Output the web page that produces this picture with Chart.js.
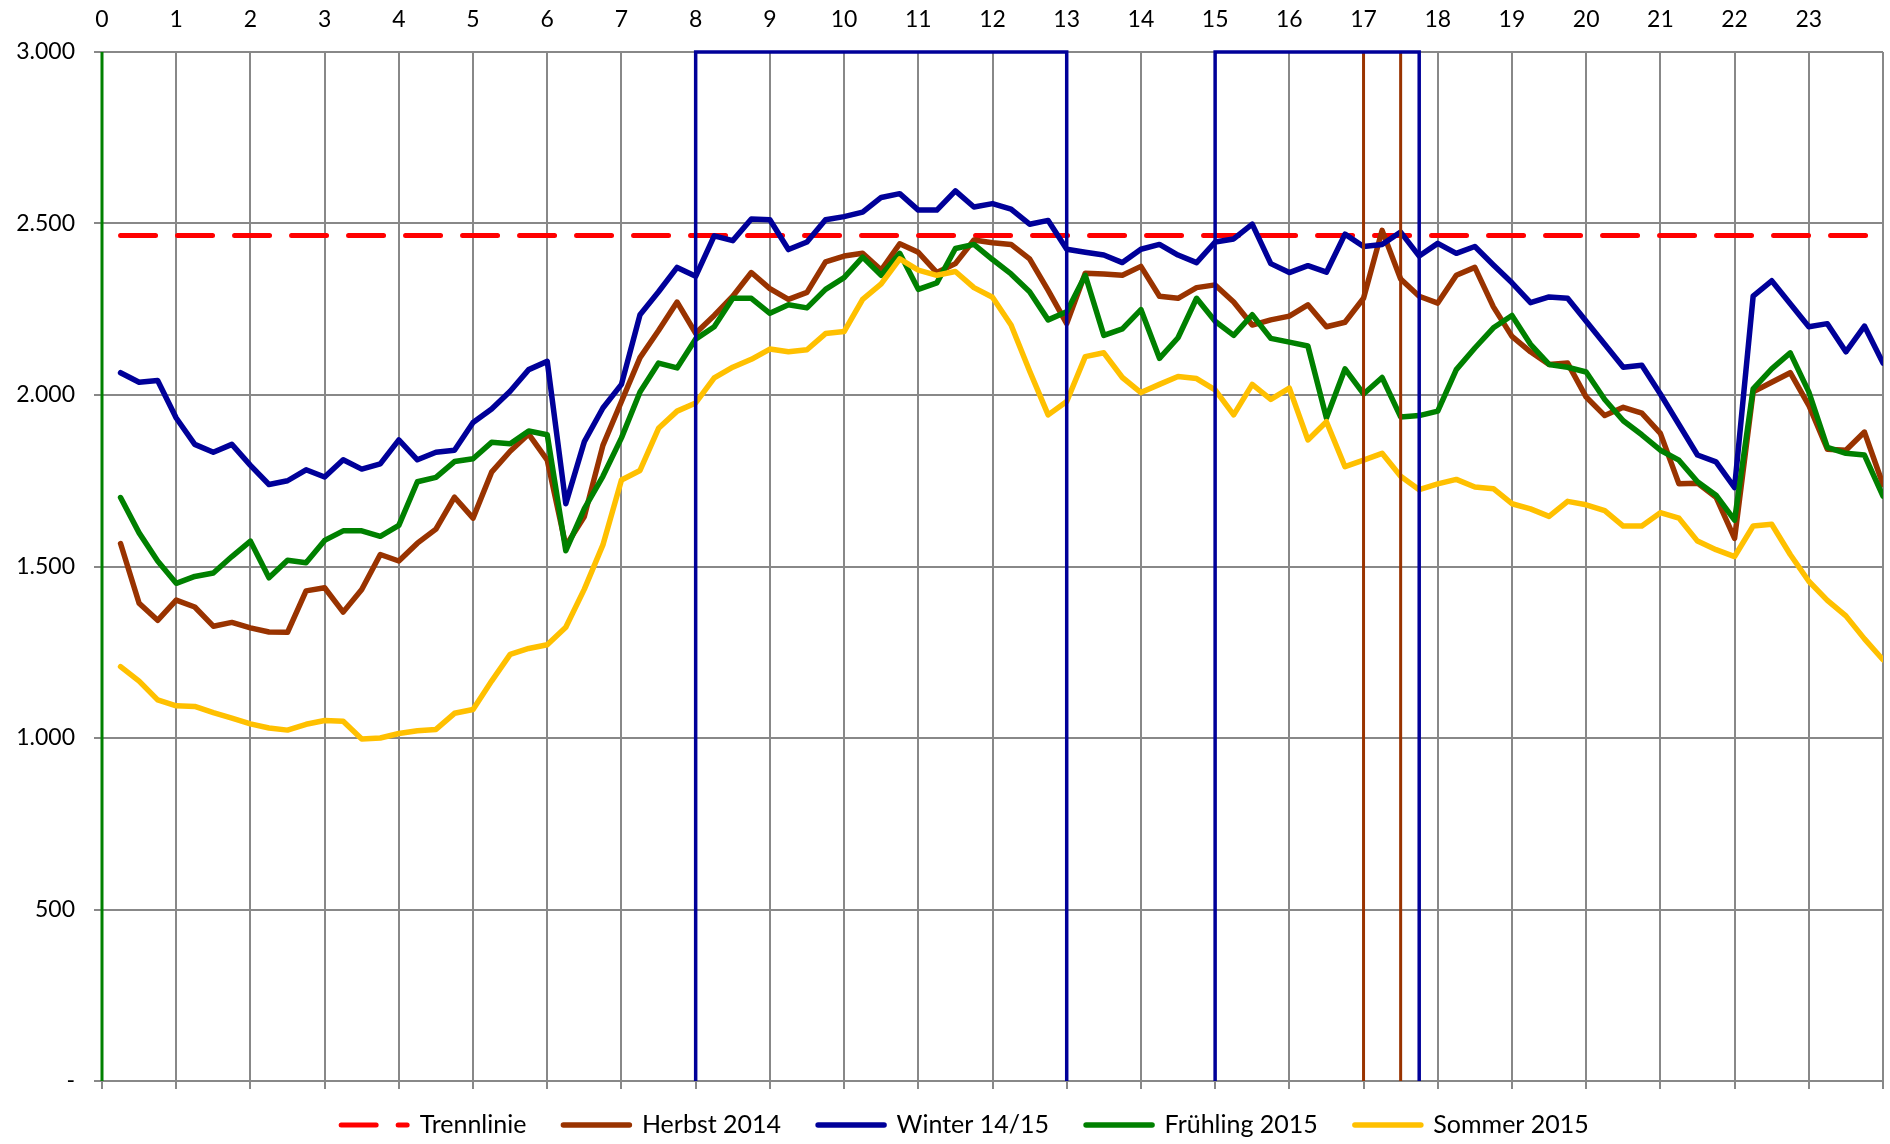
<!DOCTYPE html>
<html><head><meta charset="utf-8">
<script src="https://cdn.jsdelivr.net/npm/chart.js@4.4.1/dist/chart.umd.min.js"></script>
<style>html,body{margin:0;padding:0;background:#fff;overflow:hidden}canvas{display:block}</style>
</head><body>
<canvas id="c" width="1890" height="1144"></canvas>
<script>
// Time of day (hours), quarter-hour steps
const times = [0.25,0.5,0.75,1,1.25,1.5,1.75,2,2.25,2.5,2.75,3,3.25,3.5,3.75,4,
  4.25,4.5,4.75,5,5.25,5.5,5.75,6,6.25,6.5,6.75,7,7.25,7.5,7.75,8,
  8.25,8.5,8.75,9,9.25,9.5,9.75,10,10.25,10.5,10.75,11,11.25,11.5,11.75,12,
  12.25,12.5,12.75,13,13.25,13.5,13.75,14,14.25,14.5,14.75,15,15.25,15.5,15.75,16,
  16.25,16.5,16.75,17,17.25,17.5,17.75,18,18.25,18.5,18.75,19,19.25,19.5,19.75,20,
  20.25,20.5,20.75,21,21.25,21.5,21.75,22,22.25,22.5,22.75,23,23.25,23.5,23.75,24];

const herbst2014 = [1567,1393,1343,1402,1382,1326,1337,1321,1309,1308,1429,1438,1367,1433,1535,1516,
  1568,1609,1702,1641,1775,1836,1886,1810,1560,1646,1853,1981,2109,2188,2271,2180,
  2232,2288,2357,2310,2279,2299,2388,2405,2413,2364,2441,2416,2357,2383,2452,2444,
  2439,2397,2305,2208,2355,2353,2349,2375,2288,2282,2313,2321,2271,2204,2219,2230,
  2263,2199,2212,2282,2480,2338,2288,2268,2349,2372,2257,2171,2126,2089,2093,1994,
  1940,1964,1947,1888,1741,1743,1702,1582,2009,2037,2065,1970,1842,1839,1892,1739];

const winter1415 = [2065,2037,2042,1933,1856,1833,1856,1795,1739,1750,1782,1761,1811,1784,1799,1869,
  1811,1833,1839,1920,1959,2011,2074,2098,1683,1864,1962,2031,2234,2301,2372,2346,
  2464,2450,2513,2511,2424,2446,2511,2520,2533,2576,2587,2539,2539,2595,2548,2558,
  2542,2498,2509,2425,2416,2408,2386,2425,2439,2408,2386,2446,2455,2498,2383,2357,
  2377,2358,2469,2433,2439,2475,2405,2442,2413,2433,2379,2327,2269,2286,2282,2215,
  2148,2081,2087,2003,1914,1825,1805,1730,2288,2333,2266,2199,2208,2126,2201,2093];

const fruehling2015 = [1701,1598,1516,1451,1471,1481,1529,1574,1467,1518,1511,1576,1604,1604,1588,1620,
  1747,1760,1806,1814,1862,1858,1895,1884,1546,1669,1763,1875,2009,2093,2079,2163,
  2199,2282,2282,2238,2263,2254,2308,2342,2402,2349,2413,2308,2327,2427,2439,2395,
  2353,2301,2219,2243,2349,2174,2193,2249,2107,2167,2282,2215,2174,2234,2165,2154,
  2143,1933,2076,2003,2051,1936,1940,1953,2074,2137,2196,2232,2148,2089,2081,2067,
  1987,1925,1884,1839,1810,1747,1708,1635,2018,2076,2123,2009,1847,1830,1825,1705];

const sommer2015 = [1208,1166,1111,1094,1092,1074,1058,1041,1029,1023,1040,1051,1049,997,1000,1013,
  1021,1025,1072,1083,1166,1244,1261,1272,1323,1434,1563,1752,1780,1903,1953,1977,
  2050,2081,2104,2134,2126,2132,2179,2185,2279,2324,2397,2364,2349,2360,2313,2285,
  2204,2070,1942,1981,2112,2123,2051,2007,2031,2054,2048,2015,1942,2031,1987,2020,
  1869,1922,1791,1810,1830,1763,1724,1741,1754,1732,1727,1683,1668,1646,1690,1680,
  1663,1618,1618,1657,1641,1574,1549,1529,1618,1623,1535,1457,1401,1356,1289,1228];

const trennlinieValue = 2465;
const trennlinieSpan = [0.25, 24];

// Marker lines (hours)
const fruehlingMarks = [0];
const winterWindows = [[8, 13], [15, 17.75]];
const herbstMarks = [17, 17.5];

const yTickValues = [0, 500, 1000, 1500, 2000, 2500, 3000];
const yTickLabels = ['-', '500', '1.000', '1.500', '2.000', '2.500', '3.000'];
const hourLabels = ['0','1','2','3','4','5','6','7','8','9','10','11','12','13','14','15','16','17','18','19','20','21','22','23'];

const seriesNames = ['Trennlinie', 'Herbst 2014', 'Winter 14/15', 'Frühling 2015', 'Sommer 2015'];

const C = { red:'#FF0000', brown:'#993300', blue:'#000099', green:'#008000', yellow:'#FFC000', grid:'#888888' };
const Y_MIN = 0, Y_MAX = 3000;

const pts = arr => arr.map((v, i) => ({ x: times[i], y: v }));

const lineDs = (label, data, color, order) => ({
  label, data, borderColor: color, backgroundColor: color, borderWidth: 5.5,
  pointRadius: 0, tension: 0, order, borderJoinStyle: 'round', borderCapStyle: 'round'
});

const markerDs = (data, color, width) => ({
  label: '_marker', data, borderColor: color, backgroundColor: color, borderWidth: width,
  pointRadius: 0, tension: 0, order: 0, clip: false, borderCapStyle: 'butt', spanGaps: false
});

const datasets = [
  Object.assign(lineDs(seriesNames[0], trennlinieSpan.map(x => ({ x, y: trennlinieValue })), C.red, 6),
    { borderDash: [35, 22], borderCapStyle: 'round', borderWidth: 5 }),
  lineDs(seriesNames[1], pts(herbst2014), C.brown, 5),
  lineDs(seriesNames[2], pts(winter1415), C.blue, 4),
  lineDs(seriesNames[3], pts(fruehling2015), C.green, 3),
  lineDs(seriesNames[4], pts(sommer2015), C.yellow, 2),
];
fruehlingMarks.forEach(h => datasets.push(markerDs([{x:h,y:Y_MIN},{x:h,y:Y_MAX}], C.green, 3)));
winterWindows.forEach(([a, b]) => datasets.push(markerDs([{x:a,y:Y_MIN},{x:a,y:Y_MAX},{x:b,y:Y_MAX},{x:b,y:Y_MIN}], C.blue, 3.5)));
herbstMarks.forEach(h => datasets.push(markerDs([{x:h,y:Y_MIN},{x:h,y:Y_MAX}], C.brown, 3)));

const FONT = 'Lato, "Open Sans", "DejaVu Sans", sans-serif';
Chart.defaults.font.family = FONT;
Chart.defaults.color = '#000';

const CHART_TOP = 52, CHART_BOTTOM = 1081, CHART_LEFT = 102;
const LEGEND_FONT = 25, LEGEND_PAD = 37, LEGEND_TEXT_Y = 1125, LEGEND_CENTER_X = 965;

const legendPlacer = {
  id: 'legendPlacer',
  afterLayout(chart) {
    const lg = chart.legend;
    if (!lg || !lg.lineWidths) return;
    const P = LEGEND_PAD;
    const x0 = (lg.left + P + lg.right - lg.lineWidths[0]) / 2;
    const contentCenter = x0 + (lg.lineWidths[0] - P) / 2;
    const d = LEGEND_CENTER_X - contentCenter;
    lg.left += d; lg.right += d;
    lg.top = LEGEND_TEXT_Y - P - LEGEND_FONT / 2;
    lg.bottom = chart.height;
    lg.height = lg.bottom - lg.top;
  }
};

const baseGenerateLabels = Chart.defaults.plugins.legend.labels.generateLabels;

new Chart(document.getElementById('c'), {
  type: 'line',
  data: { datasets },
  plugins: [legendPlacer],
  options: {
    responsive: false,
    animation: false,
    events: [],
    layout: { padding: { left: 0, right: 7, top: 0, bottom: 0 } },
    plugins: {
      tooltip: { enabled: false },
      legend: {
        position: 'bottom',
        maxHeight: 1144 - CHART_BOTTOM,
        labels: {
          generateLabels: chart => {
            const items = baseGenerateLabels(chart);
            items.forEach(it => {
              const ds = chart.data.datasets[it.datasetIndex];
              it.lineDash = ds.borderDash || [];
              it.lineCap = ds.borderCapStyle || 'butt';
              it.lineWidth = ds.borderWidth;
              it.strokeStyle = ds.borderColor;
            });
            return items;
          },
          filter: item => item.text !== '_marker',
          sort: (a, b) => a.datasetIndex - b.datasetIndex,
          usePointStyle: true,
          pointStyle: 'line',
          pointStyleWidth: 66,
          padding: LEGEND_PAD,
          color: '#000',
          font: { size: LEGEND_FONT, family: FONT }
        }
      }
    },
    scales: {
      x: {
        type: 'linear', position: 'bottom', min: 0, max: 24,
        ticks: { stepSize: 1, display: false },
        grid: { color: C.grid, lineWidth: 2, tickLength: 8, drawTicks: true },
        border: { color: C.grid, width: 2 },
        afterFit: s => { s.height = Math.max(0, 1144 - CHART_BOTTOM - s.chart.legend.height); s.paddingLeft = 0; s.paddingRight = 0; }
      },
      xTop: {
        type: 'linear', position: 'top', min: 0, max: 24,
        ticks: { stepSize: 1, padding: 19, font: { size: 23 }, color: '#000',
          callback: v => (v < hourLabels.length ? hourLabels[v] : '') },
        grid: { display: false, drawTicks: false },
        border: { display: false },
        afterFit: s => { s.height = CHART_TOP; s.paddingLeft = 0; s.paddingRight = 0; }
      },
      y: {
        type: 'linear', position: 'left', min: Y_MIN, max: Y_MAX,
        ticks: { stepSize: 500, padding: 19, font: { size: 23 }, color: '#000',
          callback: v => { const i = yTickValues.indexOf(v); return i >= 0 ? yTickLabels[i] : ''; } },
        grid: { color: C.grid, lineWidth: 2, tickLength: 8 },
        border: { color: C.grid, width: 2 },
        afterFit: s => { s.width = CHART_LEFT; s.paddingTop = 0; s.paddingBottom = 0; }
      }
    }
  }
});
</script>
</body></html>
